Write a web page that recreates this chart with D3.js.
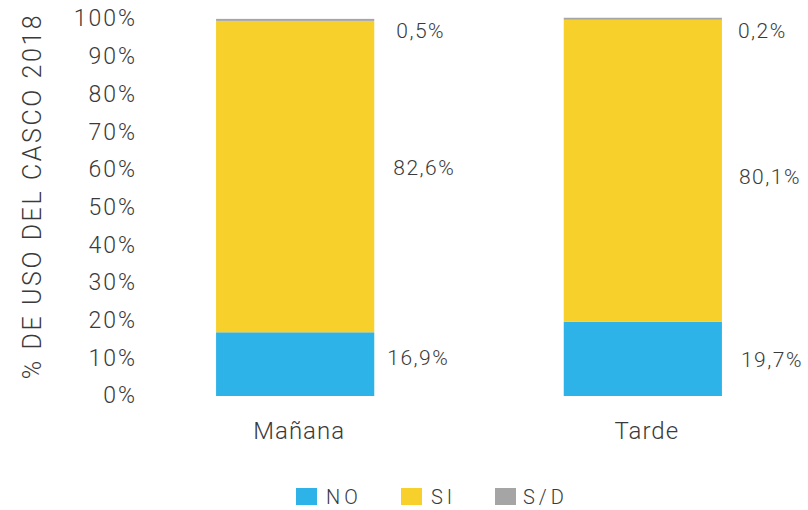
<!DOCTYPE html>
<html><head><meta charset="utf-8">
<script src="https://cdn.jsdelivr.net/npm/d3@7"></script>
<style>body{margin:0;background:#fff}text{font-family:Roboto,"Open Sans",sans-serif;font-weight:300;fill:#3a3a3a}</style>
</head><body><svg id="c" width="808" height="510"></svg>
<script>
const categories = ["Mañana", "Tarde"];
const seriesNames = ["NO", "SI", "S/D"];
const seriesColors = ["#2DB3E8", "#F7D02C", "#A5A5A5"];
const valuesNO = [16.9, 19.7];
const valuesSI = [82.6, 80.1];
const valuesSD = [0.5, 0.2];
const yTicks = [0,10,20,30,40,50,60,70,80,90,100];

const svg = d3.select("#c");
const x = d3.scaleBand().domain(categories).range([77, 861]).paddingInner(0.545).paddingOuter(0.4);
const y = d3.scaleLinear().domain([0, 100]).range([396, 19]);

const rows = categories.map((c,i)=>({cat:c, NO:valuesNO[i], SI:valuesSI[i], "S/D":valuesSD[i]}));
const stack = d3.stack().keys(seriesNames)(rows);

stack.forEach((s,si)=>{
  svg.append("g").selectAll("rect").data(s).join("rect")
    .attr("x", d=>x(d.data.cat)).attr("width", x.bandwidth())
    .attr("y", d=>si===2 ? Math.min(y(d[1]), y(d[0])-2) : y(d[1]))
    .attr("height", d=>si===2 ? Math.max(y(d[0])-y(d[1]), 2) : y(d[0])-y(d[1]))
    .attr("fill", seriesColors[si]);
});

// value labels
const labelOffsets = [[-6,1],[-9,6],[12,12]];
stack.forEach((s,si)=>{
  svg.append("g").selectAll("text").data(s).join("text")
    .attr("x", (d,i)=>x(d.data.cat)+x.bandwidth()+ (i===0?[13,19,22][si]:[19,17,16][si]))
    .attr("y", (d,i)=>si===2 ? y(d[1])+12 : (y(d[0])+y(d[1]))/2 + labelOffsets[si][i])
    .attr("dy","0.35em")
    .style("font-size","21px").style("letter-spacing","1.5px")
    .text(d=>(Math.round((d[1]-d[0])*10)/10).toFixed(1).replace(".",",")+"%");
});

// y axis
const yAxis = d3.axisLeft(y).tickValues(yTicks).tickFormat(d=>d+"%").tickSize(0).tickPadding(0);
const ga = svg.append("g").attr("transform","translate(137,0)").call(yAxis);
ga.select(".domain").remove();
ga.selectAll("text").style("font-size","23px").style("letter-spacing","2px").style("font-family","Roboto, sans-serif").style("fill","#3a3a3a").attr("dy","0.3em");

// x labels
const xAxis = d3.axisBottom(x).tickSize(0).tickPadding(0);
const gx = svg.append("g").attr("transform","translate(4,422)").call(xAxis);
gx.select(".domain").remove();
gx.selectAll("text").style("font-size","24px").style("letter-spacing","1px").style("font-family","Roboto, sans-serif").style("fill","#3a3a3a");

// y title
svg.append("text").attr("transform","translate(41,196) rotate(-90)").attr("text-anchor","middle")
  .style("font-size","25px").style("letter-spacing","2.6px").text("% DE USO DEL CASCO 2018");

// legend
const legX = [296, 401, 495];
const lg = svg.append("g");
seriesNames.forEach((n,i)=>{
  lg.append("rect").attr("x",legX[i]).attr("y",488).attr("width",21).attr("height",17).attr("fill",seriesColors[i]);
  lg.append("text").attr("x",legX[i]+ (i===2?28:30)).attr("y",497).attr("dy","0.35em")
    .style("font-size","20px").style("letter-spacing","4px").text(n);
});
</script></body></html>
